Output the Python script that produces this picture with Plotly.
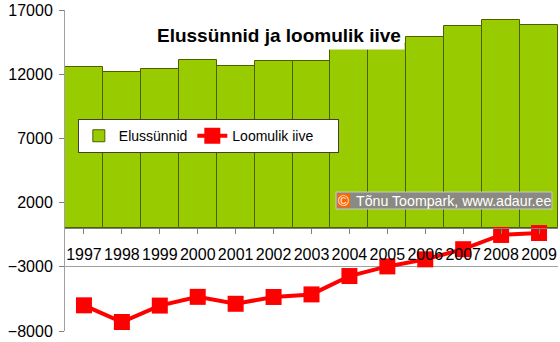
import plotly.graph_objects as go

years = ["1997", "1998", "1999", "2000", "2001", "2002", "2003",
         "2004", "2005", "2006", "2007", "2008", "2009"]
births = [12600, 12200, 12400, 13070, 12630, 13000, 13040,
          13990, 14350, 14860, 15740, 16200, 15820]
natural_increase = [-6000, -7300, -6020, -5340, -5880, -5350, -5150,
                    -3720, -2970, -2420, -1630, -520, -370]

FONT = "Liberation Sans, Arial, sans-serif"

fig = go.Figure()
fig.add_trace(go.Bar(
    x=years, y=births, name="Elussünnid",
    marker=dict(color="#99CC00", line=dict(color="#4d6000", width=1)),
))
fig.add_trace(go.Scatter(
    x=years, y=natural_increase, name="Loomulik iive\u00a0\u00a0\u00a0\u00a0\u00a0",
    mode="lines+markers",
    line=dict(color="#FF0000", width=4),
    marker=dict(symbol="square", size=16, color="#FF0000"),
))

fig.update_layout(
    width=560, height=342,
    margin=dict(l=65, r=2, t=10, b=11),
    paper_bgcolor="white", plot_bgcolor="white",
    bargap=0,
    font=dict(family=FONT, color="black"),
    showlegend=True,
    legend=dict(
        orientation="h", x=0.026, y=0.66, xanchor="left", yanchor="top",
        bgcolor="white", bordercolor="#404040", borderwidth=1,
        font=dict(size=14, family=FONT, color="black"),
        entrywidth=0,
    ),
    xaxis=dict(
        type="category", range=[-0.5, 12.5],
        anchor="free", position=0.32,
        showline=True, linecolor="#808080", linewidth=1,
        ticks="outside", ticklen=5, tickcolor="#808080",
        tickfont=dict(size=16, family=FONT, color="black"),
        ticklabelstandoff=7,
        showgrid=False, zeroline=False,
    ),
    yaxis=dict(
        range=[-8000, 17000], tick0=2000, dtick=5000, tickformat="d",
        showline=True, linecolor="#a0a0a0", linewidth=1,
        ticks="outside", ticklen=5, tickcolor="#808080",
        tickfont=dict(size=16, family=FONT, color="black"),
        ticklabelstandoff=3,
        showgrid=True, gridcolor="#a0a0a0", gridwidth=1,
        zeroline=False,
    ),
)

# Title with white background covering the top gridline
fig.add_annotation(
    text="<b>Elussünnid ja loomulik iive</b>",
    xref="paper", yref="paper", x=0.434, y=0.966,
    showarrow=False, font=dict(size=19, family=FONT, color="black"),
    bgcolor="white", borderpad=3,
)


def px_x(p):
    return (p - 65) / 493


def px_y(p):
    return 1 - (p - 10) / 321


# Copyright badge: backgrounds as shapes, texts side by side
fig.add_shape(type="rect", xref="paper", yref="paper",
              x0=px_x(336), x1=px_x(552), y0=px_y(209), y1=px_y(192),
              fillcolor="#8a8a82", line=dict(color="#c8c8c8", width=1))
fig.add_shape(type="rect", xref="paper", yref="paper",
              x0=px_x(337.5), x1=px_x(350), y0=px_y(207.5), y1=px_y(193.5),
              fillcolor="#FF6600", line=dict(width=0))
fig.add_annotation(
    text="©", xref="paper", yref="paper", x=px_x(343.7), y=px_y(200.5),
    xanchor="center", yanchor="middle", showarrow=False,
    font=dict(size=15, family=FONT, color="white"),
    borderpad=0,
)
fig.add_annotation(
    text="Tõnu Toompark, www.adaur.ee",
    xref="paper", yref="paper", x=px_x(355), y=px_y(200.5),
    xanchor="left", yanchor="middle", showarrow=False,
    font=dict(size=14.2, family=FONT, color="white"),
    borderpad=0,
)

fig.write_html("out.html")
